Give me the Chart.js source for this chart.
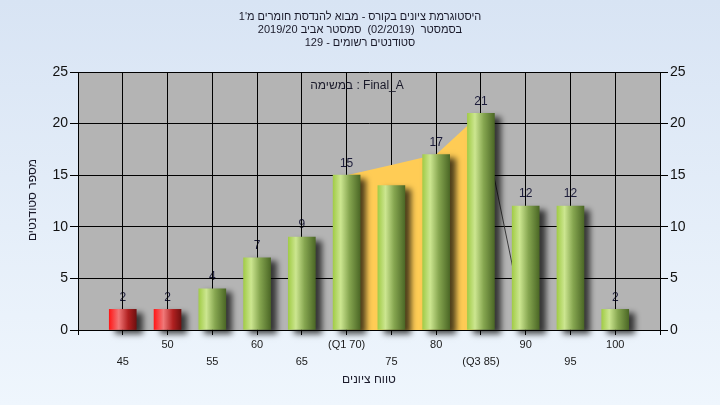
<!DOCTYPE html>
<html>
<head>
<meta charset="utf-8">
<script src="https://cdn.jsdelivr.net/npm/chart.js@4.4.0/dist/chart.umd.min.js"></script>
<style>
    html, body { margin: 0; padding: 0; }
    body { width: 720px; height: 405px; overflow: hidden; background: linear-gradient(#d8e4f4, #eff6fd); }
    canvas { display: block; }
</style>
</head>
<body>
<canvas id="histChart" width="720" height="405"></canvas>
<script>
// histogram data
const scores = [45, 50, 55, 60, 65, 70, 75, 80, 85, 90, 95, 100];
const students = [2, 2, 4, 7, 9, 15, 14, 17, 21, 12, 12, 2];
const tickNames = { 70: "(Q1 70)", 85: "(Q3 85)" };

// quartile band (yellow) and the dark line after it
const bandScores = [70, 75, 80, 85];
const bandValues = [15, 16, 17, 21];
const tailScores = [85, 90];
const tailValues = [21, 0];

const titleLines = [
    "היסטוגרמת ציונים בקורס - מבוא להנדסת חומרים מ'1",
    "בסמסטר  (02/2019)  סמסטר אביב 2019/20",
    "סטודנטים רשומים - 129"
];
const taskLabel = "במשימה : Final_A";
const yTitle = "מספר סטודנטים";
const xTitle = "טווח ציונים";

const FONT = "'Liberation Sans', 'DejaVu Sans', sans-serif";
const PASS = 55;

function barFill(ctx) {
    const chart = ctx.chart;
    if (!chart.chartArea || ctx.type !== "data") return "#8aaa50";
    const score = scores[ctx.dataIndex];
    const cx = chart.scales.x.getPixelForValue(score);
    const g = chart.ctx.createLinearGradient(cx - 13.5, 0, cx + 13.5, 0);
    if (score < PASS) {
        g.addColorStop(0, "#ff1818");
        g.addColorStop(0.35, "#f07878");
        g.addColorStop(0.7, "#b02020");
        g.addColorStop(1, "#701010");
    } else {
        g.addColorStop(0, "#a2cc48");
        g.addColorStop(0.28, "#cce690");
        g.addColorStop(0.6, "#86a650");
        g.addColorStop(1, "#4c6826");
    }
    return g;
}

const decor = {
    id: "decor",
    beforeDraw(chart) {
        const c = chart.ctx, a = chart.chartArea;
        c.save();
        c.fillStyle = "#b4b4b4";
        c.fillRect(a.left, a.top, a.right - a.left, a.bottom - a.top);

        // value labels sit under the grid, like the original
        c.font = "12px " + FONT;
        c.fillStyle = "#1c1c3a";
        c.textAlign = "center";
        c.textBaseline = "middle";
        scores.forEach((s, i) => {
            const x = chart.scales.x.getPixelForValue(s);
            const y = chart.scales.y.getPixelForValue(students[i]);
            c.fillText(String(students[i]), x, y - 12);
        });
        c.restore();
    },
    beforeDatasetDraw(chart, args) {
        if (args.index !== 0) return;
        const c = chart.ctx;
        c.save();
        c.shadowColor = "rgba(0,0,0,0.7)";
        c.shadowBlur = 6;
        c.shadowOffsetX = 6;
        c.shadowOffsetY = 4;
    },
    afterDatasetDraw(chart, args) {
        if (args.index !== 0) return;
        chart.ctx.restore();
    },
    afterDraw(chart) {
        const c = chart.ctx, a = chart.chartArea;
        c.save();
        c.fillStyle = "#1a1a2a";
        c.textAlign = "center";
        c.textBaseline = "middle";
        c.direction = "rtl";
        c.font = "11px " + FONT;
        titleLines.forEach((t, i) => c.fillText(t, 360, 17 + i * 13));

        c.font = "12px " + FONT;
        c.direction = "ltr";
        c.fillText(taskLabel, 357, 86);
        c.direction = "rtl";
        c.fillText(xTitle, (a.left + a.right) / 2, 380);

        c.translate(33, 200);
        c.rotate(-Math.PI / 2);
        c.fillText(yTitle, 0, 0);
        c.restore();
    }
};

new Chart(document.getElementById("histChart"), {
    type: "bar",
    data: {
        datasets: [{
            type: "bar",
            data: scores.map((s, i) => ({ x: s, y: students[i] })),
            backgroundColor: barFill,
            borderWidth: 0,
            barThickness: 27,
            clip: false,
            order: 0
        }, {
            type: "line",
            data: bandScores.map((s, i) => ({ x: s, y: bandValues[i] })),
            backgroundColor: "#ffcc55",
            borderWidth: 0,
            pointRadius: 0,
            fill: "origin",
            tension: 0,
            order: 2
        }, {
            type: "line",
            data: tailScores.map((s, i) => ({ x: s, y: tailValues[i] })),
            borderColor: "#3a3a3a",
            borderWidth: 1,
            pointRadius: 0,
            fill: false,
            order: 1
        }]
    },
    options: {
        responsive: false,
        animation: false,
        devicePixelRatio: 1,
        layout: { padding: { top: 72 } },
        plugins: {
            legend: { display: false },
            tooltip: { enabled: false }
        },
        scales: {
            x: {
                type: "linear",
                min: 40,
                max: 105,
                offset: false,
                afterFit: s => { s.height = 75; },
                grid: { color: "#000", offset: false, tickLength: 5 },
                border: { color: "#000" },
                ticks: {
                    stepSize: 5,
                    autoSkip: false,
                    maxRotation: 0,
                    padding: 1,
                    color: "#1a1a1a",
                    font: { family: FONT, size: 11, lineHeight: "17px" },
                    callback: v => {
                        const i = scores.indexOf(v);
                        if (i < 0) return "";
                        const t = tickNames[v] || String(v);
                        return i % 2 === 0 ? ["", t] : t;
                    }
                }
            },
            y: {
                min: 0,
                max: 25,
                afterFit: s => { s.width = 78; },
                grid: { color: "#000", tickLength: 8 },
                border: { color: "#000" },
                ticks: { stepSize: 5, padding: 2, color: "#111", font: { family: FONT, size: 14 } }
            },
            y2: {
                position: "right",
                min: 0,
                max: 25,
                afterFit: s => { s.width = 60; },
                grid: { drawOnChartArea: false, color: "#000", tickLength: 8 },
                border: { color: "#000" },
                ticks: { stepSize: 5, padding: 2, color: "#111", font: { family: FONT, size: 14 } }
            }
        }
    },
    plugins: [decor]
});
</script>
</body>
</html>
